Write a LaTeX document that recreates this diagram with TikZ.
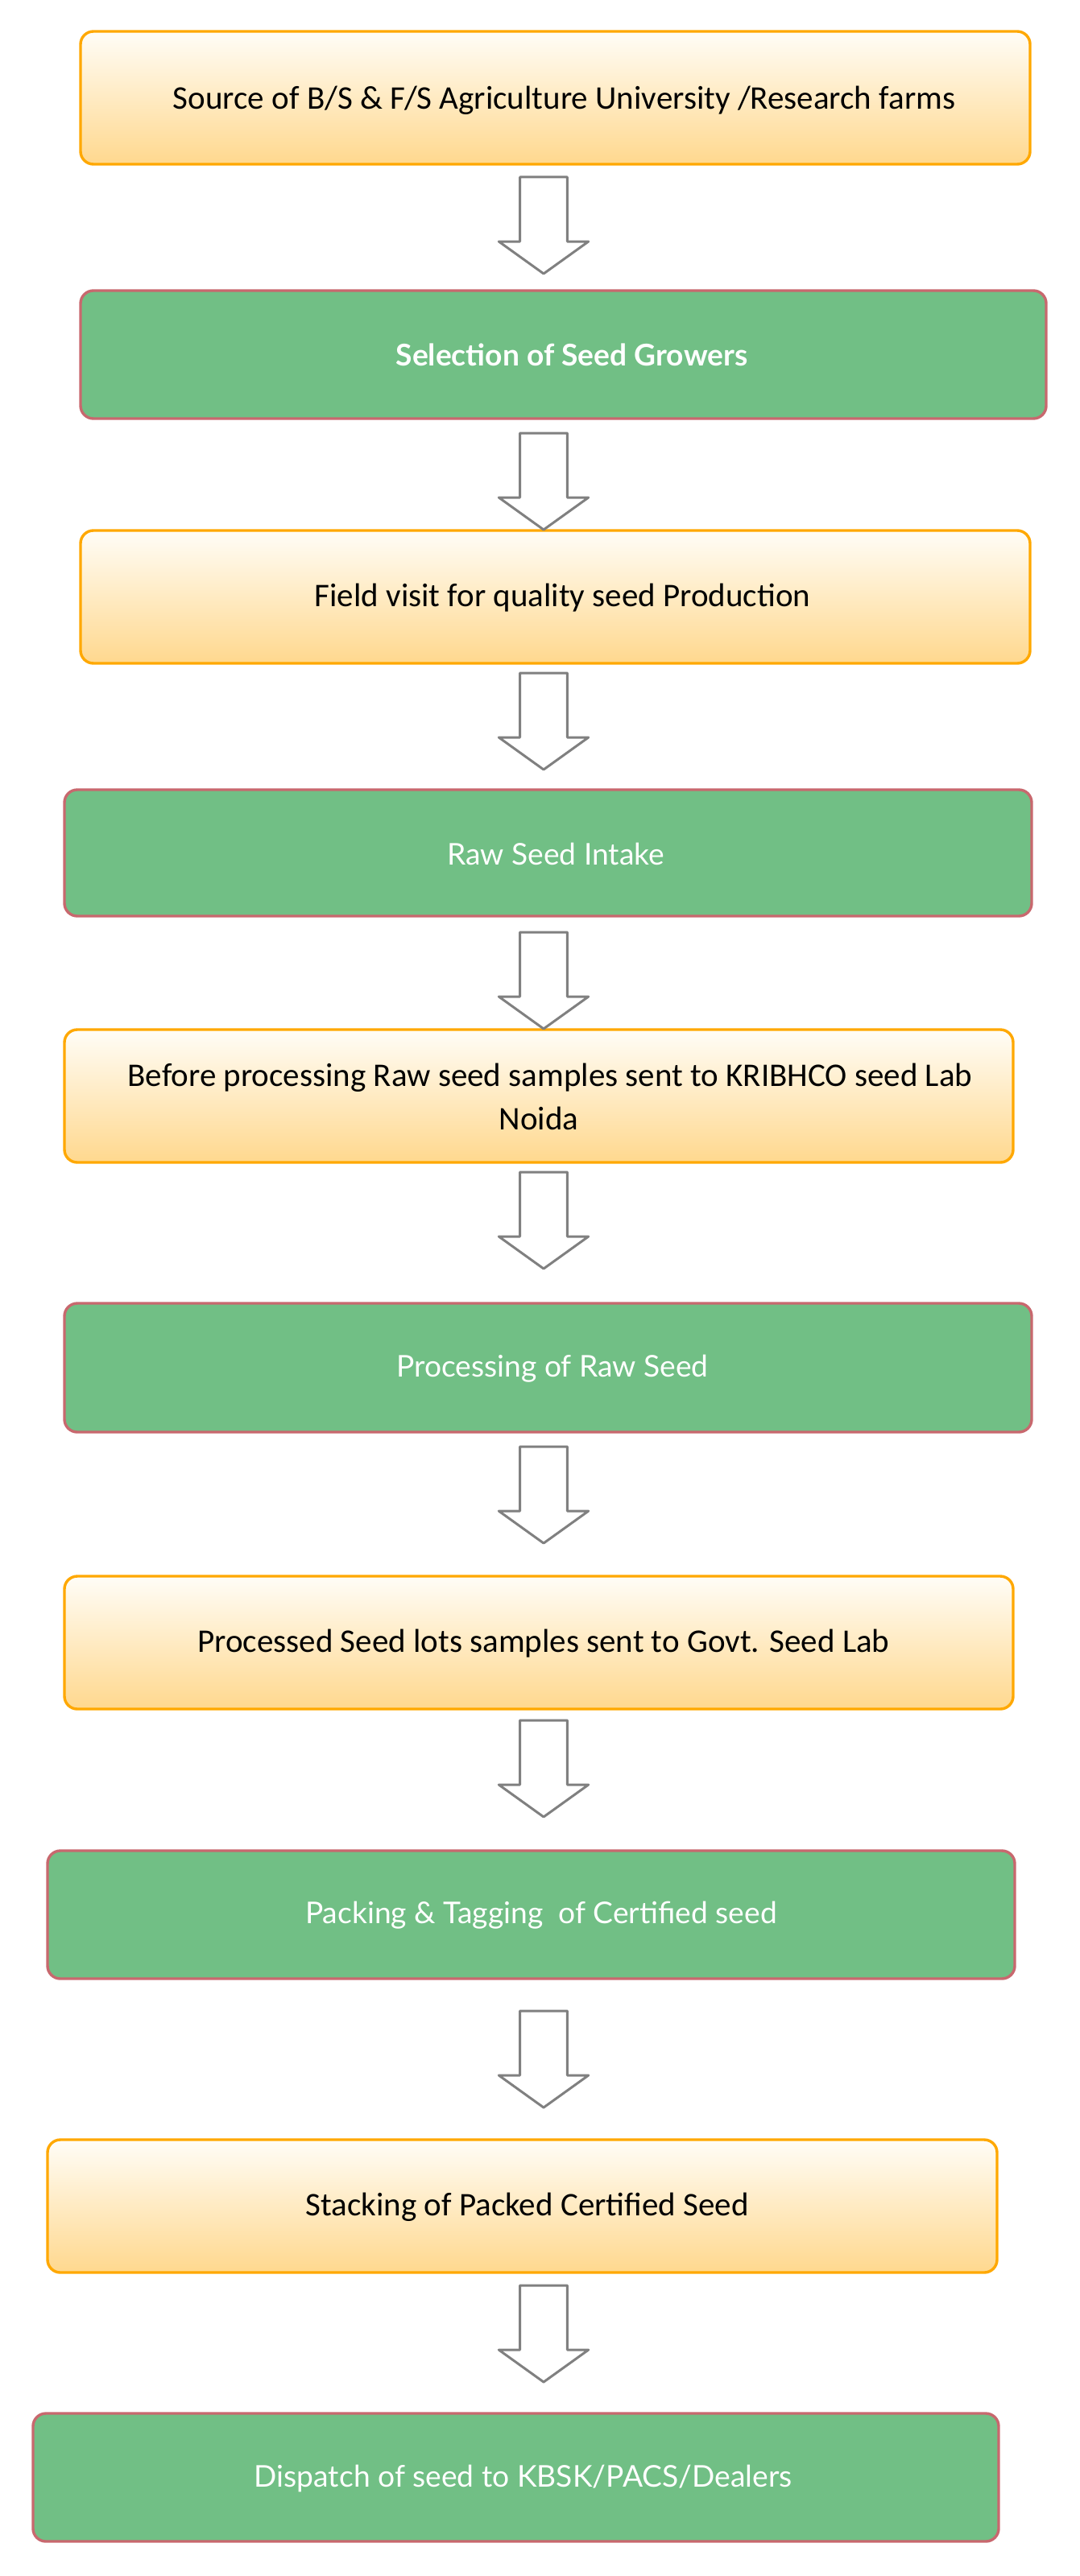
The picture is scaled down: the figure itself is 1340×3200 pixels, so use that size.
\documentclass[tikz,border=0pt]{standalone}
\usepackage{fontspec}
\setmainfont{Carlito}
\newfontfamily\lato{Lato}
\definecolor{ortop}{HTML}{FFFDF7}
\definecolor{orbot}{HTML}{FFD88E}
\definecolor{orline}{HTML}{FFA800}
\definecolor{grfill}{HTML}{71BF85}
\definecolor{grline}{HTML}{C8686E}
\definecolor{arrline}{HTML}{808080}
\tikzset{
  orbox/.style={draw=orline, line width=1.7pt, top color=ortop, bottom color=orbot, rounded corners=8pt, inner sep=0pt},
  grbox/.style={draw=grline, line width=1.7pt, fill=grfill, rounded corners=8pt, inner sep=0pt},
  ortext/.style={inner sep=0pt, font=\fontsize{20.5}{27}\selectfont, text=black, align=center},
  grtext/.style={inner sep=0pt, font=\lato\fontsize{18.6}{24}\selectfont, text=white, align=center},
  arrline/.style={draw=arrline, line width=1.5pt, fill=white, line join=round},
  pics/downarr/.style={code={
    \draw[arrline] (-29.3,0) -- (29.3,0) -- (29.3,80) -- (55.7,80) -- (0,120) -- (-55.7,80) -- (-29.3,80) -- cycle;}}
}
\begin{document}
\begin{tikzpicture}[x=0.5pt,y=-0.5pt]
\useasboundingbox (0,0) rectangle (1340,3200);
% boxes
\node[orbox, minimum width=589.5pt, minimum height=82.5pt] (b1) at (689.5,121.5) {};
\node[grbox, minimum width=599.5pt, minimum height=79.5pt] (b2) at (699.5,440.5) {};
\node[orbox, minimum width=589.5pt, minimum height=82.5pt] (b3) at (689.5,741.5) {};
\node[grbox, minimum width=600.5pt, minimum height=78.5pt] (b4) at (680.5,1059.5) {};
\node[orbox, minimum width=589pt, minimum height=82.5pt] (b5) at (669,1361.5) {};
\node[grbox, minimum width=600.5pt, minimum height=80pt] (b6) at (680.5,1699) {};
\node[orbox, minimum width=589pt, minimum height=82.5pt] (b7) at (669,2040.5) {};
\node[grbox, minimum width=600.5pt, minimum height=79.5pt] (b8) at (659.5,2378.5) {};
\node[orbox, minimum width=589.5pt, minimum height=82.5pt] (b9) at (648.5,2740.5) {};
\node[grbox, minimum width=599.5pt, minimum height=79.5pt] (b10) at (640.5,3077.5) {};
% texts
\node[ortext] (t1) at (700.6,125) {Source of B/S \& F/S Agriculture University /Research farms};
\node[grtext, font=\lato\bfseries\fontsize{18.6}{24}\selectfont] (t2) at (710,441) {Selection of Seed Growers};
\node[ortext] (t3) at (698.6,743) {Field visit for quality seed Production};
\node[grtext] (t4) at (690,1061) {Raw Seed Intake};
\node[ortext] (t5) at (669,1362) {\hspace*{14pt}Before processing Raw seed samples sent to KRIBHCO seed Lab\\Noida};
\node[grtext] (t6) at (686,1700) {Processing of Raw Seed};
\node[ortext] (t7) at (675,2042) {Processed Seed lots samples sent to Govt. Seed Lab};
\node[grtext] (t8) at (672,2379) {Packing \& Tagging\ \ of Certified seed};
\node[ortext] (t9) at (654.7,2742) {Stacking of Packed Certified Seed};
\node[grtext] (t10) at (649.6,3079) {Dispatch of seed to KBSK/PACS/Dealers};
% arrows
\coordinate (a1) at (675,220);
\coordinate (a2) at (675,538);
\coordinate (a3) at (675,836);
\coordinate (a4) at (675,1158);
\coordinate (a5) at (675,1456);
\coordinate (a6) at (675,1797);
\coordinate (a7) at (675,2137);
\coordinate (a8) at (675,2498);
\coordinate (a9) at (675,2839);
\foreach \a in {a1,a2,a3,a4,a5,a6,a7,a8,a9} {\pic at (\a) {downarr};}
\end{tikzpicture}
\end{document}
